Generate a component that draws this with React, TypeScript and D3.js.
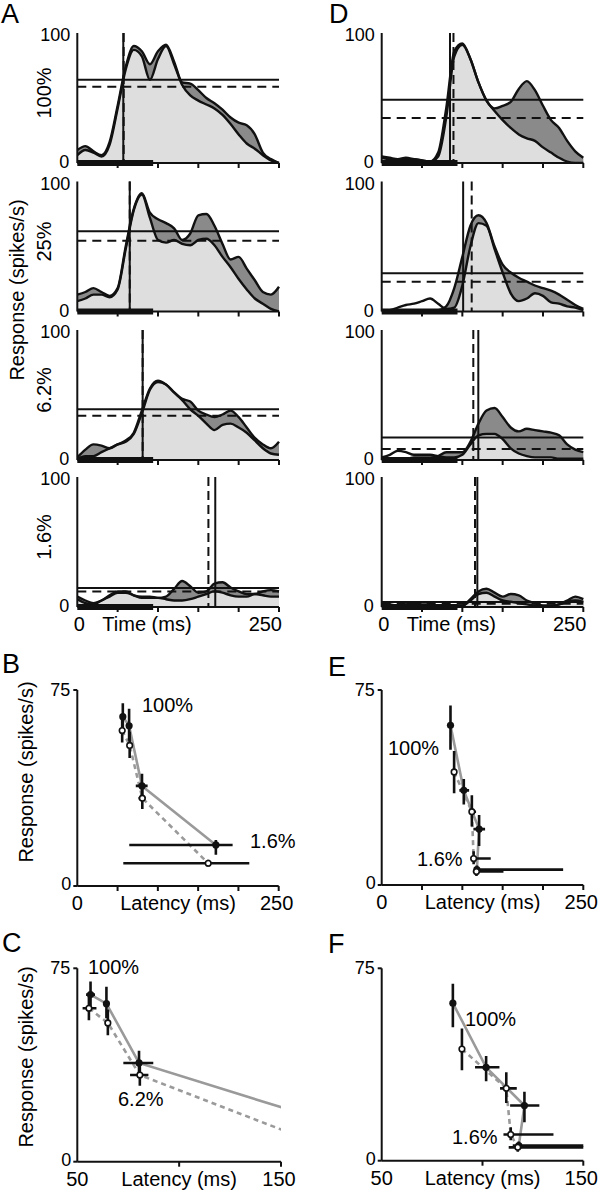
import React from "react";
import * as d3 from "d3";

// ---------- DATA ----------
const timeMs = [0, 10, 20, 30, 40, 50, 60, 70, 80, 90, 100, 110, 120, 130, 140, 150, 160, 170, 180, 190, 200, 210, 220, 230, 240, 250];
const contrastLabels = ["100%", "25%", "6.2%", "1.6%"];
const stimWindow = [0, 94];

// Panel A: two response traces per contrast (P = upper in dark regions)
const panelA_P = [
  [10, 13, 9, 6, 16, 44, 74, 90, 86, 76, 86, 91, 78, 62, 61, 56, 50, 46, 41, 35, 31, 29, 22, 8, 3, 0],
  [13, 15, 18, 15, 12, 18, 50, 79, 91, 76, 71, 68, 64, 55, 60, 74, 75, 66, 52, 40, 42, 33, 24, 15, 13, 19],
  [2, 8, 12, 11, 9, 12, 15, 21, 38, 55, 61, 58, 52, 47, 45, 38, 35, 33, 35, 38, 33, 25, 17, 12, 9, 14],
  [8, 5, 3, 5, 9, 12, 12, 9, 8, 8, 7, 8, 14, 20, 16, 11, 12, 18, 19, 15, 12, 10, 10, 12, 13, 12],
];
const panelA_Q = [
  [6, 10, 8, 5, 14, 42, 72, 87, 82, 64, 80, 90, 76, 60, 52, 48, 45, 42, 37, 30, 22, 15, 11, 6, 2, 0],
  [8, 10, 13, 13, 11, 17, 48, 78, 90, 72, 55, 53, 55, 52, 51, 55, 56, 51, 42, 34, 25, 17, 10, 6, 2, 0],
  [1, 3, 3, 6, 9, 12, 14, 20, 36, 54, 60, 58, 52, 46, 39, 34, 28, 23, 27, 28, 25, 21, 15, 9, 5, 4],
  [6, 3, 2, 5, 8, 11, 11, 9, 7, 7, 7, 6, 5, 5, 6, 8, 10, 12, 11, 9, 8, 8, 10, 9, 8, 8],
];
const panelA_latSolid = [57, 65, 81, 171];
const panelA_latDashed = [57.5, 65, 81, 162.5];
const panelA_thrSolid = [64, 61.8, 39, 14.7];
const panelA_thrDashed = [58.7, 54.5, 34, 12];

// Panel D
const panelD_P = [
  [4, 3, 3, 4, 3, 2, 1, 8, 42, 86, 92, 80, 62, 48, 42, 44, 47, 57, 63, 56, 44, 33, 27, 17, 9, 4],
  [0, 0, 1, 1, 1, 1, 1, 1, 4, 18, 42, 66, 74, 68, 50, 36, 30, 26, 23, 20, 18, 16, 13, 9, 5, 2],
  [1, 1, 1, 1, 2, 2, 2, 3, 6, 6, 6, 14, 28, 38, 40, 33, 25, 22, 24, 23, 22, 21, 19, 12, 8, 6],
  [1, 1, 1, 1, 1, 1, 1, 1, 1, 1, 1, 6, 12, 14, 11, 8, 10, 9, 5, 3, 1, 1, 2, 5, 8, 6],
];
const panelD_Q = [
  [5, 4, 3, 3, 3, 2, 1, 5, 35, 82, 91, 80, 62, 48, 40, 33, 27, 22, 19, 17, 12, 8, 4, 1, 0, 0],
  [0, 1, 3, 5, 6, 8, 10, 6, 2, 3, 20, 50, 68, 66, 48, 30, 14, 8, 10, 14, 12, 7, 6, 4, 3, 1],
  [2, 4, 7, 6, 4, 4, 4, 3, 2, 2, 4, 12, 19, 20, 20, 16, 9, 5, 3, 2, 2, 2, 1, 1, 1, 1],
  [2, 2, 1, 2, 3, 2, 2, 1, 2, 1, 1, 5, 10, 11, 8, 5, 4, 3, 2, 1, 1, 1, 2, 4, 5, 4],
];
const panelD_latSolid = [84.7, 101, 119.8, 118.6];
const panelD_latDashed = [89, 111.6, 113.6, 115.7];
const panelD_thrSolid = [48.7, 29.4, 17.4, 3.8];
const panelD_thrDashed = [34.6, 22.9, 8.5, 2.5];

// Panels B / C (same cell, C zoomed)
const bcSolidLat = [56.5, 64.3, 80.3, 172];
const bcSolidResp = [64.8, 61.3, 38.3, 15.7];
const bcSolidRespErr = [[60.2, 69.9], [55.6, 67.8], [33.3, 43], [12, 17.6]];
const bcSolidLatErr = [[54.3, 58.7], [63, 65.5], [72.6, 87.3], [64.5, 192.8]];
const bcOpenLat = [55.7, 65, 80.7, 162.5];
const bcOpenResp = [59.5, 53.8, 33.6, 8.7];
const bcOpenRespErr = [[54.9, 64.6], [49, 59], [29.5, 38.5], [7.5, 10]];
const bcOpenLatErr = [[52.6, 59.4], [63.5, 66], [75.9, 84.9], [57.1, 213.5]];

// Panels E / F (same cell, F zoomed)
const efSolidLat = [85.3, 101.8, 120.8, 118];
const efSolidResp = [61.4, 36.4, 21.5, 5.9];
const efSolidRespErr = [[52, 69], [31, 40.8], [15, 26.9], [4.5, 7.5]];
const efSolidLatErr = [[84, 86.5], [96.3, 108.4], [113.7, 128.2], [115, 225]];
const efOpenLat = [89.8, 111.8, 114, 117.5];
const efOpenResp = [43.5, 28.2, 10.2, 5.2];
const efOpenRespErr = [[35.3, 51.5], [22.5, 34.5], [8, 13], [3.5, 6.5]];
const efOpenLatErr = [[89, 90.5], [108.7, 117], [110.4, 135.2], [113, 151]];

const traceXTicks = [50, 100, 150, 200, 250];
const wideXTicks = [50, 100, 150, 200, 250];
const zoomXTicks = [100, 150];

// ---------- STYLE ----------
const FONT = "'Liberation Sans', Arial, Helvetica, sans-serif";
const FS = 20;
const TFS = 18;
const DARK = "#8a8a8a";
const LIGHT = "#dedede";
const GRAYLINE = "#9a9a9a";
const PLOT_H = 130;
const rowBases = [163, 311.5, 460, 607];

type TraceProps = {
  id: string; x0: number; x1: number; yBase: number;
  P: number[]; Q: number[]; latS: number; latD: number; thrS: number; thrD: number;
};

function Trace({ id, x0, x1, yBase, P, Q, latS, latD, thrS, thrD }: TraceProps) {
  const yTop = yBase - PLOT_H;
  const x = d3.scaleLinear().domain([0, 250]).range([x0, x1]);
  const y = d3.scaleLinear().domain([0, 100]).range([yBase, yTop]);
  const area = d3.area<number>().x((_, i) => x(timeMs[i])).y0(y(0)).y1((d) => y(d)).curve(d3.curveMonotoneX);
  const line = d3.line<number>().x((_, i) => x(timeMs[i])).y((d) => y(d)).curve(d3.curveMonotoneX);
  return (
    <g>
      <defs>
        <clipPath id={`${id}-rect`}>
          <rect x={x0} y={yTop - 2} width={x1 - x0 + 1} height={yBase - yTop + 2} />
        </clipPath>
        <clipPath id={`${id}-p`}>
          <path d={area(P) || ""} />
        </clipPath>
      </defs>
      <g clipPath={`url(#${id}-rect)`}>
        <path d={area(P) || ""} fill={DARK} />
        <path d={area(Q) || ""} fill={LIGHT} clipPath={`url(#${id}-p)`} />
        <line x1={x0} x2={x1} y1={y(thrS)} y2={y(thrS)} stroke="#111" strokeWidth={2} />
        <line x1={x0} x2={x1} y1={y(thrD)} y2={y(thrD)} stroke="#111" strokeWidth={2} strokeDasharray="9,6" />
        <path d={line(Q) || ""} fill="none" stroke="#111" strokeWidth={2.4} />
        <path d={line(P) || ""} fill="none" stroke="#111" strokeWidth={2.4} />
      </g>
      <line x1={x(latS)} x2={x(latS)} y1={yTop} y2={yBase} stroke="#111" strokeWidth={2} />
      <line x1={x(latD)} x2={x(latD)} y1={yTop} y2={yBase} stroke="#111" strokeWidth={2} strokeDasharray="9,5" />
      <line x1={x0} x2={x0} y1={yTop} y2={yBase} stroke="#111" strokeWidth={2} />
      <line x1={x0} x2={x1} y1={yBase} y2={yBase} stroke="#111" strokeWidth={2} />
      {traceXTicks.map((t) => (
        <line key={t} x1={x(t)} x2={x(t)} y1={yBase} y2={yBase + 5} stroke="#111" strokeWidth={2} />
      ))}
      <rect x={x(stimWindow[0])} y={yBase - 3} width={x(stimWindow[1]) - x(stimWindow[0])} height={6} fill="#111" />
      <text x={x0 - 7} y={y(100) + 2} textAnchor="end" dominantBaseline="central" fontSize={TFS} fontFamily={FONT}>100</text>
      <text x={x0 - 8} y={y(0) - 1} textAnchor="end" dominantBaseline="central" fontSize={TFS} fontFamily={FONT}>0</text>
    </g>
  );
}

type ScatterProps = {
  id: string; xDomain: [number, number]; x0: number; x1: number; yBase: number; yTop: number;
  xTicks: number[]; barIdx: number[];
  sLat: number[]; sResp: number[]; sRespErr: number[][]; sLatErr: number[][];
  oLat: number[]; oResp: number[]; oRespErr: number[][]; oLatErr: number[][];
  xLabels: [string, string];
};

function Scatter(p: ScatterProps) {
  const x = d3.scaleLinear().domain(p.xDomain).range([p.x0, p.x1]);
  const y = d3.scaleLinear().domain([0, 75]).range([p.yBase, p.yTop]);
  const mk = (lat: number[], resp: number[]) =>
    d3.line<number>().x((d) => x(d)).y((_, i) => y(resp[i]))(lat) || "";
  const bars = (lat: number[], resp: number[], rErr: number[][], lErr: number[][], key: string) =>
    p.barIdx.map((i) => (
      <g key={key + i}>
        <line x1={x(lat[i])} x2={x(lat[i])} y1={y(rErr[i][0])} y2={y(rErr[i][1])} stroke="#111" strokeWidth={2.6} />
        <line x1={x(lErr[i][0])} x2={x(lErr[i][1])} y1={y(resp[i])} y2={y(resp[i])} stroke="#111" strokeWidth={2.6} />
      </g>
    ));
  return (
    <g>
      <defs>
        <clipPath id={`${p.id}-clip`}>
          <rect x={p.x0} y={p.yTop - 30} width={p.x1 - p.x0} height={p.yBase - p.yTop + 30} />
        </clipPath>
      </defs>
      <g clipPath={`url(#${p.id}-clip)`}>
        <path d={mk(p.sLat, p.sResp)} fill="none" stroke={GRAYLINE} strokeWidth={2.6} />
        <path d={mk(p.oLat, p.oResp)} fill="none" stroke={GRAYLINE} strokeWidth={2.6} strokeDasharray="5,4" />
        {bars(p.sLat, p.sResp, p.sRespErr, p.sLatErr, "s")}
        {bars(p.oLat, p.oResp, p.oRespErr, p.oLatErr, "o")}
        {p.barIdx.map((i) => (
          <circle key={"sc" + i} cx={x(p.sLat[i])} cy={y(p.sResp[i])} r={3.6} fill="#111" />
        ))}
        {p.barIdx.map((i) => (
          <circle key={"oc" + i} cx={x(p.oLat[i])} cy={y(p.oResp[i])} r={2.8} fill="#fff" stroke="#111" strokeWidth={1.6} />
        ))}
      </g>
      <line x1={p.x0} x2={p.x0} y1={p.yTop} y2={p.yBase} stroke="#111" strokeWidth={2} />
      <line x1={p.x0} x2={p.x1} y1={p.yBase} y2={p.yBase} stroke="#111" strokeWidth={2} />
      <line x1={p.x0 - 4} x2={p.x0} y1={y(75)} y2={y(75)} stroke="#111" strokeWidth={2} />
      <line x1={p.x0 - 4} x2={p.x0} y1={y(0)} y2={y(0)} stroke="#111" strokeWidth={2} />
      {p.xTicks.map((t) => (
        <line key={t} x1={x(t)} x2={x(t)} y1={p.yBase} y2={p.yBase + 5} stroke="#111" strokeWidth={2} />
      ))}
      <text x={p.x0 - 7} y={y(75)} textAnchor="end" dominantBaseline="central" fontSize={TFS} fontFamily={FONT}>75</text>
      <text x={p.x0 - 6} y={y(0) - 2} textAnchor="end" dominantBaseline="central" fontSize={TFS} fontFamily={FONT}>0</text>
      <text x={p.x0} y={p.yBase + 24} textAnchor="middle" fontSize={FS} fontFamily={FONT}>{p.xLabels[0]}</text>
      <text x={p.x1 - 2} y={p.yBase + 24} textAnchor="middle" fontSize={FS} fontFamily={FONT}>{p.xLabels[1]}</text>
      <text x={(p.x0 + p.x1) / 2} y={p.yBase + 24} textAnchor="middle" fontSize={FS} fontFamily={FONT}>Latency (ms)</text>
    </g>
  );
}

const Label = ({ x, y, children, size = FS }: { x: number; y: number; children: React.ReactNode; size?: number }) => (
  <text x={x} y={y} fontSize={size} fontFamily={FONT}>{children}</text>
);

const VLabel = ({ cx, cy, children }: { cx: number; cy: number; children: React.ReactNode }) => (
  <text transform={`translate(${cx},${cy}) rotate(-90)`} textAnchor="middle" dy="0.35em" fontSize={FS} fontFamily={FONT}>
    {children}
  </text>
);

export default function App() {
  const AX0 = 77.3, AX1 = 279;
  const DX0 = 381.7, DX1 = 583.3;
  return (
    <svg width={600} height={1200} style={{ position: "absolute", left: 0, top: 0, background: "#fff" }}>
      <rect x={0} y={0} width={600} height={1200} fill="#fff" />
      {rowBases.map((b, i) => (
        <Trace key={"a" + i} id={"a" + i} x0={AX0} x1={AX1} yBase={b} P={panelA_P[i]} Q={panelA_Q[i]}
          latS={panelA_latSolid[i]} latD={panelA_latDashed[i]} thrS={panelA_thrSolid[i]} thrD={panelA_thrDashed[i]} />
      ))}
      {rowBases.map((b, i) => (
        <Trace key={"d" + i} id={"d" + i} x0={DX0} x1={DX1} yBase={b} P={panelD_P[i]} Q={panelD_Q[i]}
          latS={panelD_latSolid[i]} latD={panelD_latDashed[i]} thrS={panelD_thrSolid[i]} thrD={panelD_thrDashed[i]} />
      ))}
      {contrastLabels.map((c, i) => (
        <VLabel key={c} cx={44} cy={rowBases[i] - PLOT_H + 60}>{c}</VLabel>
      ))}
      <VLabel cx={17} cy={290}>Response (spikes/s)</VLabel>
      {/* time axis labels */}
      <text x={AX0 + 2} y={631} textAnchor="middle" fontSize={FS} fontFamily={FONT}>0</text>
      <text x={AX0 + 25} y={631} fontSize={FS} fontFamily={FONT}>Time (ms)</text>
      <text x={AX1 + 3} y={631} textAnchor="end" fontSize={FS} fontFamily={FONT}>250</text>
      <text x={DX0 + 2} y={631} textAnchor="middle" fontSize={FS} fontFamily={FONT}>0</text>
      <text x={DX0 + 25} y={631} fontSize={FS} fontFamily={FONT}>Time (ms)</text>
      <text x={DX1 + 3} y={631} textAnchor="end" fontSize={FS} fontFamily={FONT}>250</text>

      <Scatter id="b" xDomain={[0, 250]} x0={AX0} x1={278.7} yBase={886} yTop={690} xTicks={wideXTicks} barIdx={[0, 1, 2, 3]}
        sLat={bcSolidLat} sResp={bcSolidResp} sRespErr={bcSolidRespErr} sLatErr={bcSolidLatErr}
        oLat={bcOpenLat} oResp={bcOpenResp} oRespErr={bcOpenRespErr} oLatErr={bcOpenLatErr} xLabels={["0", "250"]} />
      <Scatter id="e" xDomain={[0, 250]} x0={DX0} x1={DX1} yBase={885} yTop={690} xTicks={wideXTicks} barIdx={[0, 1, 2, 3]}
        sLat={efSolidLat} sResp={efSolidResp} sRespErr={efSolidRespErr} sLatErr={efSolidLatErr}
        oLat={efOpenLat} oResp={efOpenResp} oRespErr={efOpenRespErr} oLatErr={efOpenLatErr} xLabels={["0", "250"]} />
      <Scatter id="c" xDomain={[50, 150]} x0={AX0} x1={281} yBase={1161.7} yTop={968.3} xTicks={zoomXTicks} barIdx={[0, 1, 2]}
        sLat={bcSolidLat} sResp={bcSolidResp} sRespErr={bcSolidRespErr} sLatErr={bcSolidLatErr}
        oLat={bcOpenLat} oResp={bcOpenResp} oRespErr={bcOpenRespErr} oLatErr={bcOpenLatErr} xLabels={["50", "150"]} />
      <Scatter id="f" xDomain={[50, 150]} x0={DX0} x1={DX1} yBase={1160.7} yTop={968.3} xTicks={zoomXTicks} barIdx={[0, 1, 2, 3]}
        sLat={efSolidLat} sResp={efSolidResp} sRespErr={efSolidRespErr} sLatErr={efSolidLatErr}
        oLat={efOpenLat} oResp={efOpenResp} oRespErr={efOpenRespErr} oLatErr={efOpenLatErr} xLabels={["50", "150"]} />

      <VLabel cx={26} cy={772}>Response (spikes/s)</VLabel>
      <VLabel cx={26} cy={1057}>Response (spikes/s)</VLabel>

      <Label x={142} y={712}>100%</Label>
      <Label x={250} y={848}>1.6%</Label>
      <Label x={388} y={755}>100%</Label>
      <Label x={417} y={866}>1.6%</Label>
      <Label x={88} y={974}>100%</Label>
      <Label x={118} y={1106}>6.2%</Label>
      <Label x={465} y={1026}>100%</Label>
      <Label x={452} y={1144}>1.6%</Label>

      <Label x={1} y={23} size={27}>A</Label>
      <Label x={329} y={23} size={27}>D</Label>
      <Label x={2} y={673} size={27}>B</Label>
      <Label x={328} y={676} size={27}>E</Label>
      <Label x={2} y={952} size={27}>C</Label>
      <Label x={328} y={953} size={27}>F</Label>
    </svg>
  );
}
